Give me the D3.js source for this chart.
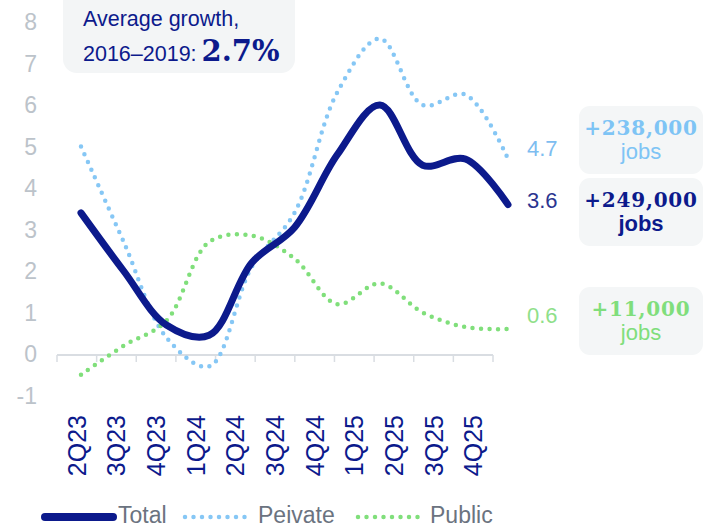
<!DOCTYPE html>
<html lang="en">
  <head>
    <meta charset="utf-8">
    <title>Job growth by quarter</title>
    <script type="text/javascript" src="https://cdn.jsdelivr.net/npm/d3@7"></script>
    <style>
      body { margin: 0; background: #fff; }
      text { font-family: "Liberation Sans", Arial, sans-serif; }
      .serif { font-family: "DejaVu Serif", serif; font-weight: bold; }
    </style>
  </head>
  <body>
    <script type="text/javascript">
    // chart data
    var quarters = ["2Q23","3Q23","4Q23","1Q24","2Q24","3Q24","4Q24","1Q25","2Q25","3Q25","4Q25"];
    var totalGrowth = [3.4, 2.0, 0.7, 0.45, 2.2, 3.05, 4.8, 6.0, 4.55, 4.7, 3.6];
    var privateGrowth = [5.0, 2.7, 0.4, -0.3, 2.1, 3.4, 6.3, 7.6, 6.0, 6.25, 4.7];
    var publicGrowth = [-0.5, 0.2, 0.8, 2.7, 2.85, 2.3, 1.2, 1.7, 1.0, 0.65, 0.6];
    var yTicks = [-1, 0, 1, 2, 3, 4, 5, 6, 7, 8];
    var endLabels = ["4.7", "3.6", "0.6"];
    var jobLabels = ["+238,000", "+249,000", "+11,000"];
    var legendNames = ["Total", "Peivate", "Public"];

    var navy = "#0c1a8c";
    var blue = "#86c7f5";
    var green = "#80df7b";

    var w = 704;
    var h = 529;

    var svg = d3.select("body")
                .append("svg")
                .attr("width", w)
                .attr("height", h);

    // scales
    var y = d3.scaleLinear().domain([-1, 8]).range([395.5, 22]);
    var xBand = d3.scaleBand().domain(quarters).range([57, 493]);
    var xLine = d3.scalePoint().domain(quarters).range([81, 508]);

    // y tick labels (no axis line)
    svg.selectAll(".ylab")
       .data(yTicks)
       .enter()
       .append("text")
       .attr("class", "ylab")
       .attr("x", 37)
       .attr("y", function(d) { return y(d); })
       .attr("dy", "0.36em")
       .attr("text-anchor", "end")
       .attr("font-size", 23)
       .attr("fill", "#bcc3ca")
       .text(function(d) { return d; });

    // x axis line with ticks on band edges
    var axisY = y(0) + 1;
    svg.append("line")
       .attr("x1", xBand.range()[0]).attr("x2", xBand.range()[1])
       .attr("y1", axisY).attr("y2", axisY)
       .attr("stroke", "#d9dde2").attr("stroke-width", 2);

    var edges = quarters.map(function(q) { return xBand(q); }).concat([xBand.range()[1]]);
    svg.selectAll(".tick")
       .data(edges)
       .enter()
       .append("line")
       .attr("class", "tick")
       .attr("x1", function(d) { return d; }).attr("x2", function(d) { return d; })
       .attr("y1", axisY).attr("y2", axisY + 7)
       .attr("stroke", "#d9dde2").attr("stroke-width", 1.5);

    svg.selectAll(".xlab")
       .data(quarters)
       .enter()
       .append("text")
       .attr("class", "xlab")
       .attr("transform", function(d) {
         return "translate(" + (xBand(d) + xBand.bandwidth() / 2) + ",415) rotate(-90)";
       })
       .attr("dy", "0.36em")
       .attr("text-anchor", "end")
       .attr("font-size", 25)
       .attr("fill", navy)
       .text(function(d) { return d; });

    // lines
    var line = d3.line()
                 .x(function(d, i) { return xLine(quarters[i]); })
                 .y(function(d) { return y(d); })
                 .curve(d3.curveCatmullRom.alpha(0.5));

    svg.append("path")
       .datum(privateGrowth)
       .attr("d", line)
       .attr("fill", "none")
       .attr("stroke", blue)
       .attr("stroke-width", 4.5)
       .attr("stroke-linecap", "round")
       .attr("stroke-dasharray", "0 8.5");

    svg.append("path")
       .datum(publicGrowth)
       .attr("d", line)
       .attr("fill", "none")
       .attr("stroke", green)
       .attr("stroke-width", 4.5)
       .attr("stroke-linecap", "round")
       .attr("stroke-dasharray", "0 8.5");

    svg.append("path")
       .datum(totalGrowth)
       .attr("d", line)
       .attr("fill", "none")
       .attr("stroke", navy)
       .attr("stroke-width", 7)
       .attr("stroke-linecap", "round")
       .attr("stroke-linejoin", "round");

    // end value labels
    var endY = [148, 200, 315];
    var endColors = ["#7dbdf0", "#2b3590", "#8fe08a"];
    svg.selectAll(".endlab")
       .data(endLabels)
       .enter()
       .append("text")
       .attr("class", "endlab")
       .attr("x", 527)
       .attr("y", function(d, i) { return endY[i]; })
       .attr("dy", "0.36em")
       .attr("font-size", 22)
       .attr("fill", function(d, i) { return endColors[i]; })
       .text(function(d) { return d; });

    // job count boxes
    var boxTops = [106, 178, 287];
    var boxColors = ["#7ec4f5", navy, "#80de7c"];
    var boxes = svg.selectAll(".jobbox")
                   .data(jobLabels)
                   .enter()
                   .append("g")
                   .attr("class", "jobbox")
                   .attr("transform", function(d, i) { return "translate(579," + boxTops[i] + ")"; });

    boxes.append("rect")
         .attr("width", 124).attr("height", 68)
         .attr("rx", 11)
         .attr("fill", "#f4f6f7");

    boxes.append("text")
         .attr("class", "serif")
         .attr("x", 62).attr("y", 29)
         .attr("text-anchor", "middle")
         .attr("font-size", 20)
         .attr("letter-spacing", 0.8)
         .attr("fill", function(d, i) { return boxColors[i]; })
         .text(function(d) { return d; });

    boxes.append("text")
         .attr("x", 62).attr("y", 53)
         .attr("text-anchor", "middle")
         .attr("font-size", 22)
         .attr("font-weight", function(d, i) { return i == 1 ? "bold" : "normal"; })
         .attr("fill", function(d, i) { return boxColors[i]; })
         .text("jobs");

    // average growth box
    svg.append("rect")
       .attr("x", 63).attr("y", -14)
       .attr("width", 232).attr("height", 87)
       .attr("rx", 14)
       .attr("fill", "#f3f5f6");

    svg.append("text")
       .attr("x", 83).attr("y", 26)
       .attr("font-size", 21.5)
       .attr("fill", navy)
       .text("Average growth,");

    var t2 = svg.append("text")
                .attr("x", 83).attr("y", 61)
                .attr("font-size", 21.5)
                .attr("fill", navy);
    t2.append("tspan").text("2016\u20132019:");
    t2.append("tspan")
      .attr("class", "serif")
      .attr("dx", 5)
      .attr("font-size", 29)
      .text("2.7%");

    // legend
    var legX = [45, 185, 358];
    var legText = [118, 258, 430];
    var legColors = [navy, blue, green];
    var legY = 515;
    legendNames.forEach(function(name, i) {
      var ln = svg.append("line")
                  .attr("x1", legX[i]).attr("x2", legX[i] + (i == 0 ? 68 : 62))
                  .attr("y1", legY + 2).attr("y2", legY + 2)
                  .attr("stroke", legColors[i])
                  .attr("stroke-linecap", "round");
      if (i == 0) {
        ln.attr("stroke-width", 8);
      } else {
        ln.attr("stroke-width", 4.5).attr("stroke-dasharray", "0 8.5");
      }
      svg.append("text")
         .attr("x", legText[i]).attr("y", legY)
         .attr("dy", "0.36em")
         .attr("font-size", 23)
         .attr("fill", "#6b7380")
         .text(name);
    });
    </script>
  </body>
</html>
